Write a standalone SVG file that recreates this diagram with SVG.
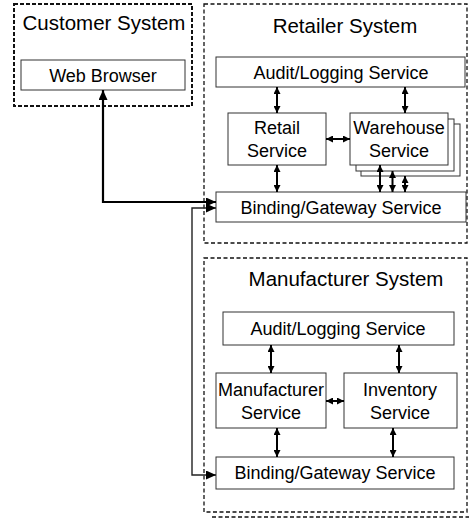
<svg xmlns="http://www.w3.org/2000/svg" width="469" height="521" viewBox="0 0 469 521">
<style>
text{font-family:"Liberation Sans",Arial,sans-serif;fill:#000;text-anchor:middle}
.t{font-size:20.5px}
.s{font-size:18px}
.box{fill:#fff;stroke:#333;stroke-width:1}
.sys{fill:none;stroke:#111;stroke-width:1.3;stroke-dasharray:4 2.5}
.cust{fill:none;stroke:#111;stroke-width:2;stroke-dasharray:4 2}
.c{fill:none;stroke:#000;stroke-width:2}
</style>
<defs>
<marker id="a" markerUnits="userSpaceOnUse" markerWidth="7" markerHeight="7" refX="7" refY="3.5" orient="auto-start-reverse">
<path d="M0,0 L7,3.5 L0,7 z" fill="#000"/>
</marker>
<marker id="b" markerUnits="userSpaceOnUse" markerWidth="10" markerHeight="9" refX="10" refY="4.5" orient="auto-start-reverse">
<path d="M0,0 L10,4.5 L0,9 z" fill="#000"/>
</marker>
</defs>
<rect x="0" y="0" width="469" height="521" fill="#fff"/>

<g id="customer-system">
<rect class="cust" x="14" y="4" width="178" height="102"/>
<text class="t" x="104" y="30">Customer System</text>
</g>
<g id="web-browser">
<rect class="box" x="21" y="60" width="164" height="30"/>
<text class="s" x="103" y="81.5">Web Browser</text>
</g>

<g id="retailer-system">
<rect class="sys" x="204" y="4" width="263" height="239"/>
<text class="t" x="345" y="33">Retailer System</text>
</g>
<g id="r-audit">
<rect class="box" x="216" y="57" width="249" height="30"/>
<text class="s" x="341" y="78.5">Audit/Logging Service</text>
</g>
<g id="r-retail">
<rect class="box" x="228" y="113" width="98" height="52"/>
<text class="s" x="277" y="134">Retail</text>
<text class="s" x="277" y="157">Service</text>
</g>
<g id="r-warehouse">
<rect class="box" x="361" y="124" width="99" height="52"/>
<rect class="box" x="356" y="119" width="98" height="52"/>
<rect class="box" x="350" y="113" width="98" height="52"/>
<text class="s" x="399" y="134">Warehouse</text>
<text class="s" x="399" y="157">Service</text>
</g>
<g id="r-gateway">
<rect class="box" x="216" y="192" width="250" height="30"/>
<text class="s" x="341" y="213.5">Binding/Gateway Service</text>
</g>

<g id="manufacturer-system">
<path class="sys" d="M212,517 H469"/>
<rect class="sys" x="204" y="258" width="263" height="254"/>
<text class="t" x="346" y="286">Manufacturer System</text>
</g>
<g id="m-audit">
<rect class="box" x="223" y="312" width="231" height="33"/>
<text class="s" x="338" y="335">Audit/Logging Service</text>
</g>
<g id="m-manufacturer">
<rect class="box" x="216" y="373" width="110" height="55"/>
<text class="s" x="271" y="396">Manufacturer</text>
<text class="s" x="271" y="419">Service</text>
</g>
<g id="m-inventory">
<rect class="box" x="344" y="373" width="113" height="55"/>
<text class="s" x="400" y="396">Inventory</text>
<text class="s" x="400" y="419">Service</text>
</g>
<g id="m-gateway">
<rect class="box" x="216" y="457" width="238" height="32"/>
<text class="s" x="335" y="479">Binding/Gateway Service</text>
</g>

<g id="connectors">
<path d="M103,90 V202 H216" fill="none" stroke="#000" stroke-width="2.2" marker-start="url(#b)" marker-end="url(#b)"/>
<path d="M216,208 H192 V475 H216" fill="none" stroke="#222" stroke-width="1.4" marker-start="url(#b)" marker-end="url(#b)"/>
<path class="c" d="M277,87 V113" marker-start="url(#a)" marker-end="url(#a)"/>
<path class="c" d="M405,87 V113" marker-start="url(#a)" marker-end="url(#a)"/>
<path class="c" d="M326,139 H350" marker-start="url(#a)" marker-end="url(#a)"/>
<path class="c" d="M277,165 V192" marker-start="url(#a)" marker-end="url(#a)"/>
<path class="c" d="M380,165 V192" marker-start="url(#a)" marker-end="url(#a)"/>
<path class="c" d="M392.5,171 V192" marker-start="url(#a)" marker-end="url(#a)"/>
<path class="c" d="M405,176 V192" marker-start="url(#a)" marker-end="url(#a)"/>
<path class="c" d="M271,345 V373" marker-start="url(#a)" marker-end="url(#a)"/>
<path class="c" d="M399,345 V373" marker-start="url(#a)" marker-end="url(#a)"/>
<path class="c" d="M326,401 H344" marker-start="url(#a)" marker-end="url(#a)"/>
<path class="c" d="M277,428 V457" marker-start="url(#a)" marker-end="url(#a)"/>
<path class="c" d="M393,428 V457" marker-start="url(#a)" marker-end="url(#a)"/>
</g>
</svg>
